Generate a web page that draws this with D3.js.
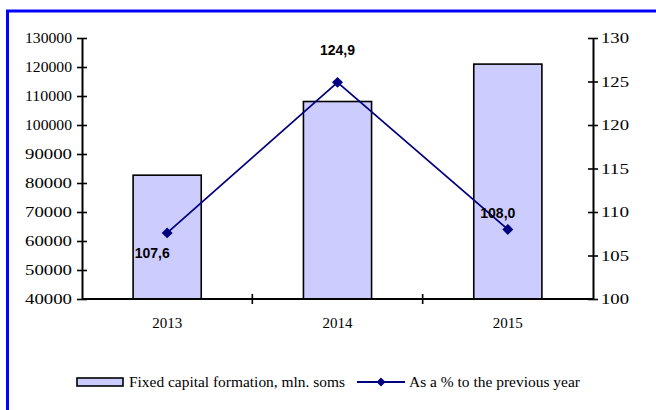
<!DOCTYPE html>
<html><head><meta charset="utf-8">
<script src="https://cdn.jsdelivr.net/npm/d3@7"></script>
<style>body{margin:0;background:#fff}svg{display:block}</style>
</head><body>
<svg id="c" width="656" height="410"></svg>
<script>
const years = ["2013", "2014", "2015"];
const capital = [82700, 108100, 121000];
const percent = [107.6, 124.9, 108.0];
const percentLabels = ["107,6", "124,9", "108,0"];
const leftTicks = [40000, 50000, 60000, 70000, 80000, 90000, 100000, 110000, 120000, 130000];
const rightTicks = [100, 105, 110, 115, 120, 125, 130];
const legendNames = ["Fixed capital formation, mln. soms", "As a % to the previous year"];

const svg = d3.select("#c");
const W = 656, H = 410;
const L = 82, R = 593, T = 38, B = 299;
const SERIF = '"Liberation Serif"';
const SANS = '"Liberation Sans"';

// blue frame (left and top)
svg.append("line").attr("x1", 7.5).attr("x2", 7.5).attr("y1", 10).attr("y2", H).attr("stroke", "#0000ff").attr("stroke-width", 3);
svg.append("line").attr("x1", 6).attr("x2", W).attr("y1", 11).attr("y2", 11).attr("stroke", "#0000ff").attr("stroke-width", 3);

const x = d3.scaleBand().domain(years).range([L, R]).paddingInner(0.6).paddingOuter(0.3);
const yL = d3.scaleLinear().domain([40000, 130000]).range([B, T]);
const yR = d3.scaleLinear().domain([100, 130]).range([B, T]);

// bars
svg.selectAll("rect.bar").data(years).join("rect").attr("class", "bar")
  .attr("x", d => x(d)).attr("width", x.bandwidth())
  .attr("y", (d, i) => yL(capital[i])).attr("height", (d, i) => B - yL(capital[i]))
  .attr("fill", "#ccccff").attr("stroke", "#000").attr("stroke-width", 1.6);

// left axis
const gL = svg.append("g").attr("transform", `translate(${L},0)`)
  .call(d3.axisLeft(yL).tickValues(leftTicks).tickSizeInner(5).tickSizeOuter(0).tickPadding(6).tickFormat(d3.format("d")));
gL.select(".domain").attr("stroke-width", 2);
gL.selectAll(".tick line").attr("x2", 5).attr("x1", -5).attr("stroke-width", 1.6);
gL.selectAll("text").style("font-family", SERIF).style("font-size", "15px").attr("fill", "#000").attr("x", -10)
  .attr("textLength", 47).attr("lengthAdjust", "spacingAndGlyphs");

// right axis
const gR = svg.append("g").attr("transform", `translate(${R},0)`)
  .call(d3.axisRight(yR).tickValues(rightTicks).tickSizeInner(5).tickSizeOuter(0).tickPadding(6));
gR.select(".domain").attr("stroke-width", 2);
gR.selectAll(".tick line").attr("x2", 5).attr("x1", -5).attr("stroke-width", 1.6);
gR.selectAll("text").style("font-family", SERIF).style("font-size", "15px").attr("fill", "#000").attr("x", 8)
  .attr("textLength", 28).attr("lengthAdjust", "spacingAndGlyphs");

// bottom axis
const xEdges = d3.scaleLinear().domain([0, 3]).range([L, R]);
svg.append("line").attr("x1", L).attr("x2", R).attr("y1", B).attr("y2", B).attr("stroke", "#000").attr("stroke-width", 2);
svg.selectAll("line.xt").data([1, 2]).join("line").attr("class", "xt")
  .attr("x1", d => xEdges(d)).attr("x2", d => xEdges(d)).attr("y1", B - 5).attr("y2", B + 5)
  .attr("stroke", "#000").attr("stroke-width", 1.6);
svg.selectAll("text.xl").data(years).join("text").attr("class", "xl")
  .attr("x", d => x(d) + x.bandwidth() / 2).attr("y", 328).attr("text-anchor", "middle")
  .style("font-family", SERIF).style("font-size", "15px").text(d => d);

// line series
const cx = d => x(d) + x.bandwidth() / 2;
const line = d3.line().x((d, i) => cx(years[i])).y(d => yR(d));
svg.append("path").datum(percent).attr("d", line).attr("fill", "none").attr("stroke", "#000080").attr("stroke-width", 1.8);
svg.selectAll("path.pt").data(percent).join("path").attr("class", "pt")
  .attr("d", d3.symbol().type(d3.symbolSquare).size(60))
  .attr("transform", (d, i) => `translate(${cx(years[i])},${yR(d)}) rotate(45)`)
  .attr("fill", "#000080");

// data labels
const lblOff = [[-15, 25], [0, -27], [-10, -11]];
svg.selectAll("text.dl").data(percent).join("text").attr("class", "dl")
  .attr("x", (d, i) => cx(years[i]) + lblOff[i][0]).attr("y", (d, i) => yR(d) + lblOff[i][1])
  .attr("text-anchor", "middle").style("font-family", SANS).style("font-weight", "bold").style("font-size", "14px")
  .attr("fill", "#000").text((d, i) => percentLabels[i]);

// legend
const lg = svg.append("g");
lg.append("rect").attr("x", 77).attr("y", 378).attr("width", 46).attr("height", 8)
  .attr("fill", "#ccccff").attr("stroke", "#000").attr("stroke-width", 1.6);
lg.append("text").attr("x", 129).attr("y", 387).style("font-family", SERIF).style("font-size", "15px")
  .attr("textLength", 216).attr("lengthAdjust", "spacingAndGlyphs").text(legendNames[0]);
lg.append("line").attr("x1", 357).attr("x2", 405).attr("y1", 382).attr("y2", 382).attr("stroke", "#000080").attr("stroke-width", 1.8);
lg.append("path").attr("d", d3.symbol().type(d3.symbolSquare).size(40)).attr("transform", "translate(381,382) rotate(45)").attr("fill", "#000080");
lg.append("text").attr("x", 409).attr("y", 387).style("font-family", SERIF).style("font-size", "15px")
  .attr("textLength", 171).attr("lengthAdjust", "spacingAndGlyphs").text(legendNames[1]);
</script>
</body></html>
